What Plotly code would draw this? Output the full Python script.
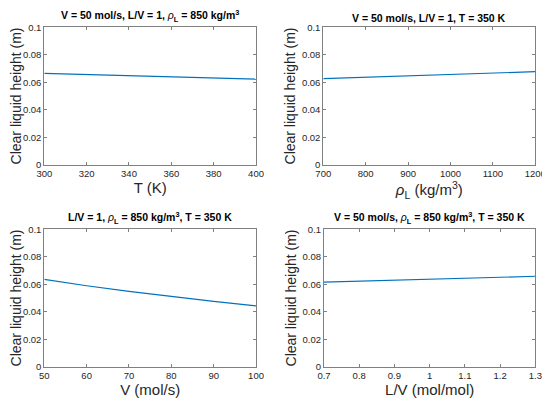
import plotly.graph_objects as go
from plotly.subplots import make_subplots

# temperature sweep
temp_k = [300, 325, 350, 375, 400]
height_temp = [0.0665, 0.0654, 0.0643, 0.0633, 0.0623]

# liquid density sweep
rho_l = [700, 800, 900, 1000, 1100, 1200]
height_rho = [0.0626, 0.0637, 0.0648, 0.0658, 0.0668, 0.0677]

# vapour flow sweep
vap_flow = [50, 60, 70, 80, 90, 100]
height_vap = [0.0636, 0.0589, 0.0548, 0.0511, 0.0475, 0.0443]

# L/V sweep
lv_ratio = [0.7, 0.8, 0.9, 1.0, 1.1, 1.2, 1.3]
height_lv = [0.0615, 0.0622, 0.0630, 0.0637, 0.0644, 0.0651, 0.0658]

titles = [
    "<b>V = 50 mol/s, L/V = 1, </b><i>ρ</i><sub><b>L</b></sub><b> = 850 kg/m</b><sup><b>3</b></sup>",
    "<b>V = 50 mol/s, L/V = 1, T = 350 K</b>",
    "<b>L/V = 1, </b><i>ρ</i><sub><b>L</b></sub><b> = 850 kg/m</b><sup><b>3</b></sup><b>, T = 350 K</b>",
    "<b>V = 50 mol/s, </b><i>ρ</i><sub><b>L</b></sub><b> = 850 kg/m</b><sup><b>3</b></sup><b>, T = 350 K</b>",
]
x_titles = ["T (K)", "<i>ρ</i><sub>L</sub> (kg/m<sup>3</sup>)", "V (mol/s)", "L/V (mol/mol)"]
x_ranges = [[300, 400], [700, 1200], [50, 100], [0.7, 1.3]]
x_dticks = [20, 100, 10, 0.1]

fig = make_subplots(rows=2, cols=2)

series = [(temp_k, height_temp), (rho_l, height_rho), (vap_flow, height_vap), (lv_ratio, height_lv)]
for i, (xs, ys) in enumerate(series):
    fig.add_trace(go.Scatter(x=xs, y=ys, mode="lines", line=dict(color="#0072BD", width=1.2),
                             showlegend=False), row=i // 2 + 1, col=i % 2 + 1)

# the page body adds an 8px margin, so the figure is 8px smaller than the window
x_domains = [[0.067, 0.4576], [0.5817, 0.9729], [0.067, 0.4576], [0.583, 0.9729]]
y_domains = [[0.6043, 0.9513], [0.6043, 0.9513], [0.0942, 0.4412], [0.0942, 0.4412]]

axis_style = dict(showline=True, linecolor="#808080", linewidth=1, mirror="ticks",
                  ticks="inside", ticklen=3, tickcolor="#808080", showgrid=False,
                  zeroline=False, automargin=False, tickfont=dict(size=9.5, color="#262626"))

for i in range(4):
    n = "" if i == 0 else str(i + 1)
    fig.layout["xaxis" + n].update(domain=x_domains[i], range=x_ranges[i], dtick=x_dticks[i],
                                   tick0=x_ranges[i][0],
                                   title=dict(text=x_titles[i], font=dict(size=15, color="#262626"),
                                              standoff=3),
                                   **axis_style)
    fig.layout["yaxis" + n].update(domain=y_domains[i], range=[0, 0.1], dtick=0.02,
                                   title=dict(text="Clear liquid height (m)",
                                              font=dict(size=14, color="#262626"), standoff=2),
                                   **axis_style)
    fig.add_annotation(text=titles[i], xref="paper", yref="paper",
                       x=sum(x_domains[i]) / 2, y=y_domains[i][1] + 0.003,
                       xanchor="center", yanchor="bottom", showarrow=False,
                       font=dict(size=10.5, color="black"))

fig.update_layout(width=542, height=396, margin=dict(l=0, r=0, t=0, b=0),
                  plot_bgcolor="white", paper_bgcolor="white",
                  font=dict(family="Arial, Liberation Sans, sans-serif"))

fig.write_html("out.html")
